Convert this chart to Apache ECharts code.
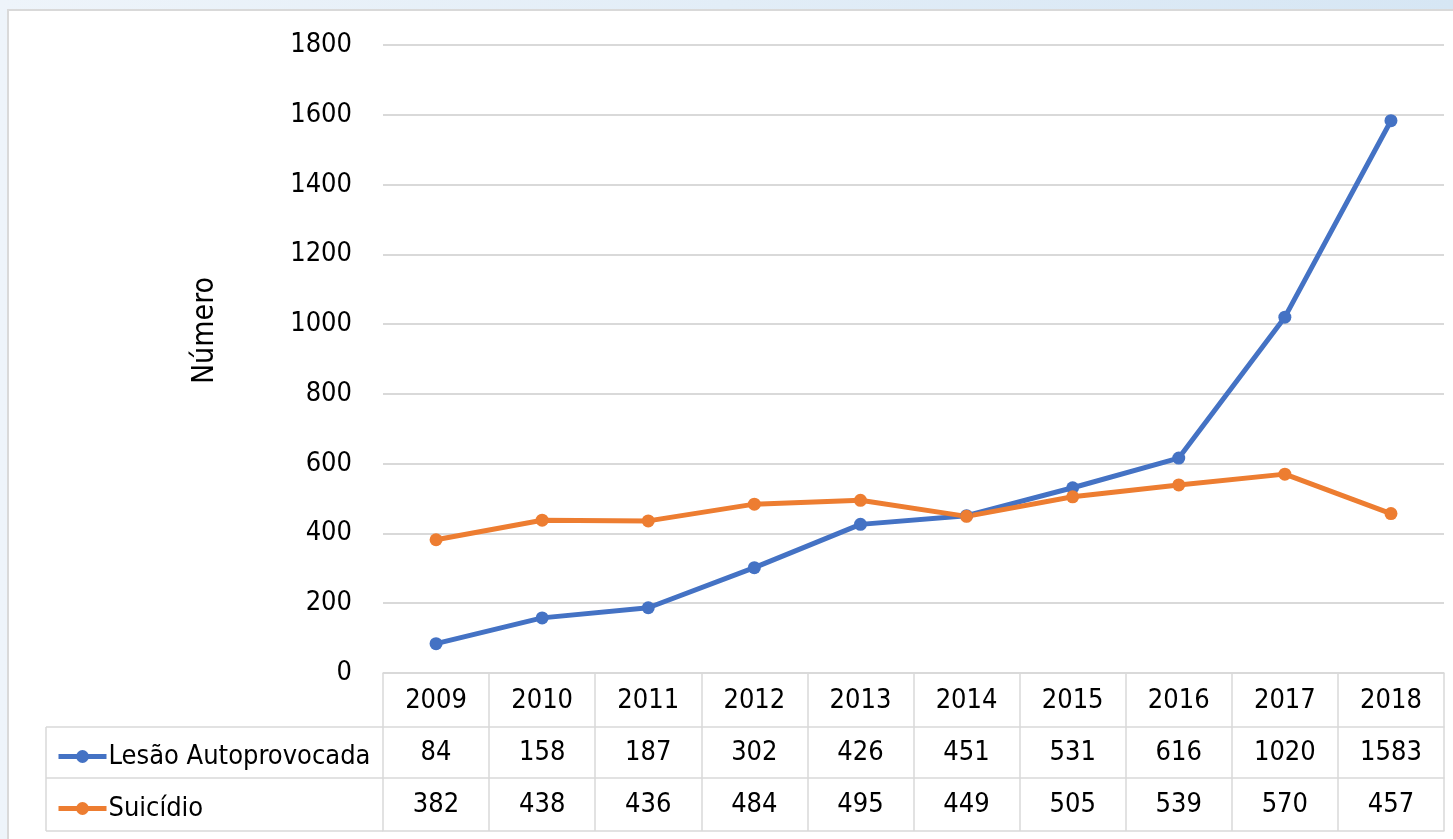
<!DOCTYPE html>
<html>
<head>
<meta charset="utf-8">
<script src="https://cdn.jsdelivr.net/npm/echarts@6/dist/echarts.min.js"></script>
<style>html,body{margin:0;padding:0;}#c{width:1453px;height:839px;}</style>
</head>
<body>
<div id="c"></div>
<script>
const years = ['2009','2010','2011','2012','2013','2014','2015','2016','2017','2018'];
const lesao = [84, 158, 187, 302, 426, 451, 531, 616, 1020, 1583];
const suicidio = [382, 438, 436, 484, 495, 449, 505, 539, 570, 457];
const seriesNames = ['Lesão Autoprovocada', 'Suicídio'];
const yTicks = { min: 0, max: 1800, interval: 200 };
const axisTitle = 'Número';

const FONT = "'DejaVu Sans Condensed', 'Liberation Sans Narrow', sans-serif";
const FS = 27;
const TXT = '#000000';
const GRID = '#d9d9d9';
const BLUE = '#4472C4';
const ORANGE = '#ED7D31';

const chart = echarts.init(document.getElementById('c'), null, { renderer: 'canvas' });

function tableAxis(offset, tickLen, margin, formatter, showLabel) {
  return {
    type: 'category',
    data: years,
    position: 'bottom',
    offset: offset,
    boundaryGap: true,
    axisLine: { show: true, lineStyle: { color: GRID, width: 1.5 } },
    axisTick: { show: tickLen > 0, length: tickLen, interval: 0, alignWithLabel: false, lineStyle: { color: GRID, width: 1.5 } },
    axisLabel: {
      show: showLabel, interval: 0, margin: margin, verticalAlign: 'middle',
      fontFamily: FONT, fontSize: FS, color: TXT, formatter: formatter
    },
    splitLine: { show: false }
  };
}

const option = {
  backgroundColor: new echarts.graphic.LinearGradient(0, 0, 1, 0, [
    { offset: 0, color: '#eef4fa' }, { offset: 1, color: '#d6e6f4' }
  ]),
  animation: false,
  graphic: [
    { type: 'rect', z: -10, shape: { x: 8, y: 10, width: 1460, height: 850 },
      style: { fill: '#ffffff', stroke: GRID, lineWidth: 2 } },
    { type: 'line', shape: { x1: 46, y1: 727, x2: 383, y2: 727 }, style: { stroke: GRID, lineWidth: 1.5 } },
    { type: 'line', shape: { x1: 46, y1: 778, x2: 383, y2: 778 }, style: { stroke: GRID, lineWidth: 1.5 } },
    { type: 'line', shape: { x1: 46, y1: 831, x2: 383, y2: 831 }, style: { stroke: GRID, lineWidth: 1.5 } },
    { type: 'line', shape: { x1: 46, y1: 727, x2: 46, y2: 831 }, style: { stroke: GRID, lineWidth: 1.5 } }
  ],
  legend: {
    orient: 'vertical',
    left: 51,
    top: 736,
    itemWidth: 48,
    itemHeight: 16,
    itemGap: 21,
    data: seriesNames,
    lineStyle: { width: 5 },
    textStyle: { fontFamily: FONT, fontSize: FS, color: TXT, lineHeight: 31, padding: [0, 0, 0, -3] }
  },
  grid: { left: 383, right: 9, top: 45, bottom: 166, containLabel: false },
  xAxis: [
    tableAxis(0, 54, 28, (v) => v, true),
    tableAxis(54, 51, 26, (v, i) => String(lesao[i]), true),
    tableAxis(105, 53, 27, (v, i) => String(suicidio[i]), true),
    tableAxis(158, 0, 0, (v) => '', false)
  ],
  yAxis: {
    type: 'value',
    min: yTicks.min, max: yTicks.max, interval: yTicks.interval,
    name: axisTitle,
    nameLocation: 'middle',
    nameGap: 163,
    nameTextStyle: { fontFamily: FONT, fontSize: 30, color: TXT, padding: [0, 0, 0, 57] },
    axisLine: { show: false },
    axisTick: { show: false },
    axisLabel: { margin: 31, fontFamily: FONT, fontSize: FS, color: TXT, formatter: (v) => String(v) },
    splitLine: { lineStyle: { color: GRID, width: 2 } }
  },
  series: [
    {
      name: seriesNames[0], type: 'line', data: lesao, xAxisIndex: 0,
      symbol: 'circle', symbolSize: 13,
      lineStyle: { color: BLUE, width: 5 }, itemStyle: { color: BLUE }
    },
    {
      name: seriesNames[1], type: 'line', data: suicidio, xAxisIndex: 0,
      symbol: 'circle', symbolSize: 13,
      lineStyle: { color: ORANGE, width: 5 }, itemStyle: { color: ORANGE }
    }
  ]
};
chart.setOption(option);
</script>
</body>
</html>
